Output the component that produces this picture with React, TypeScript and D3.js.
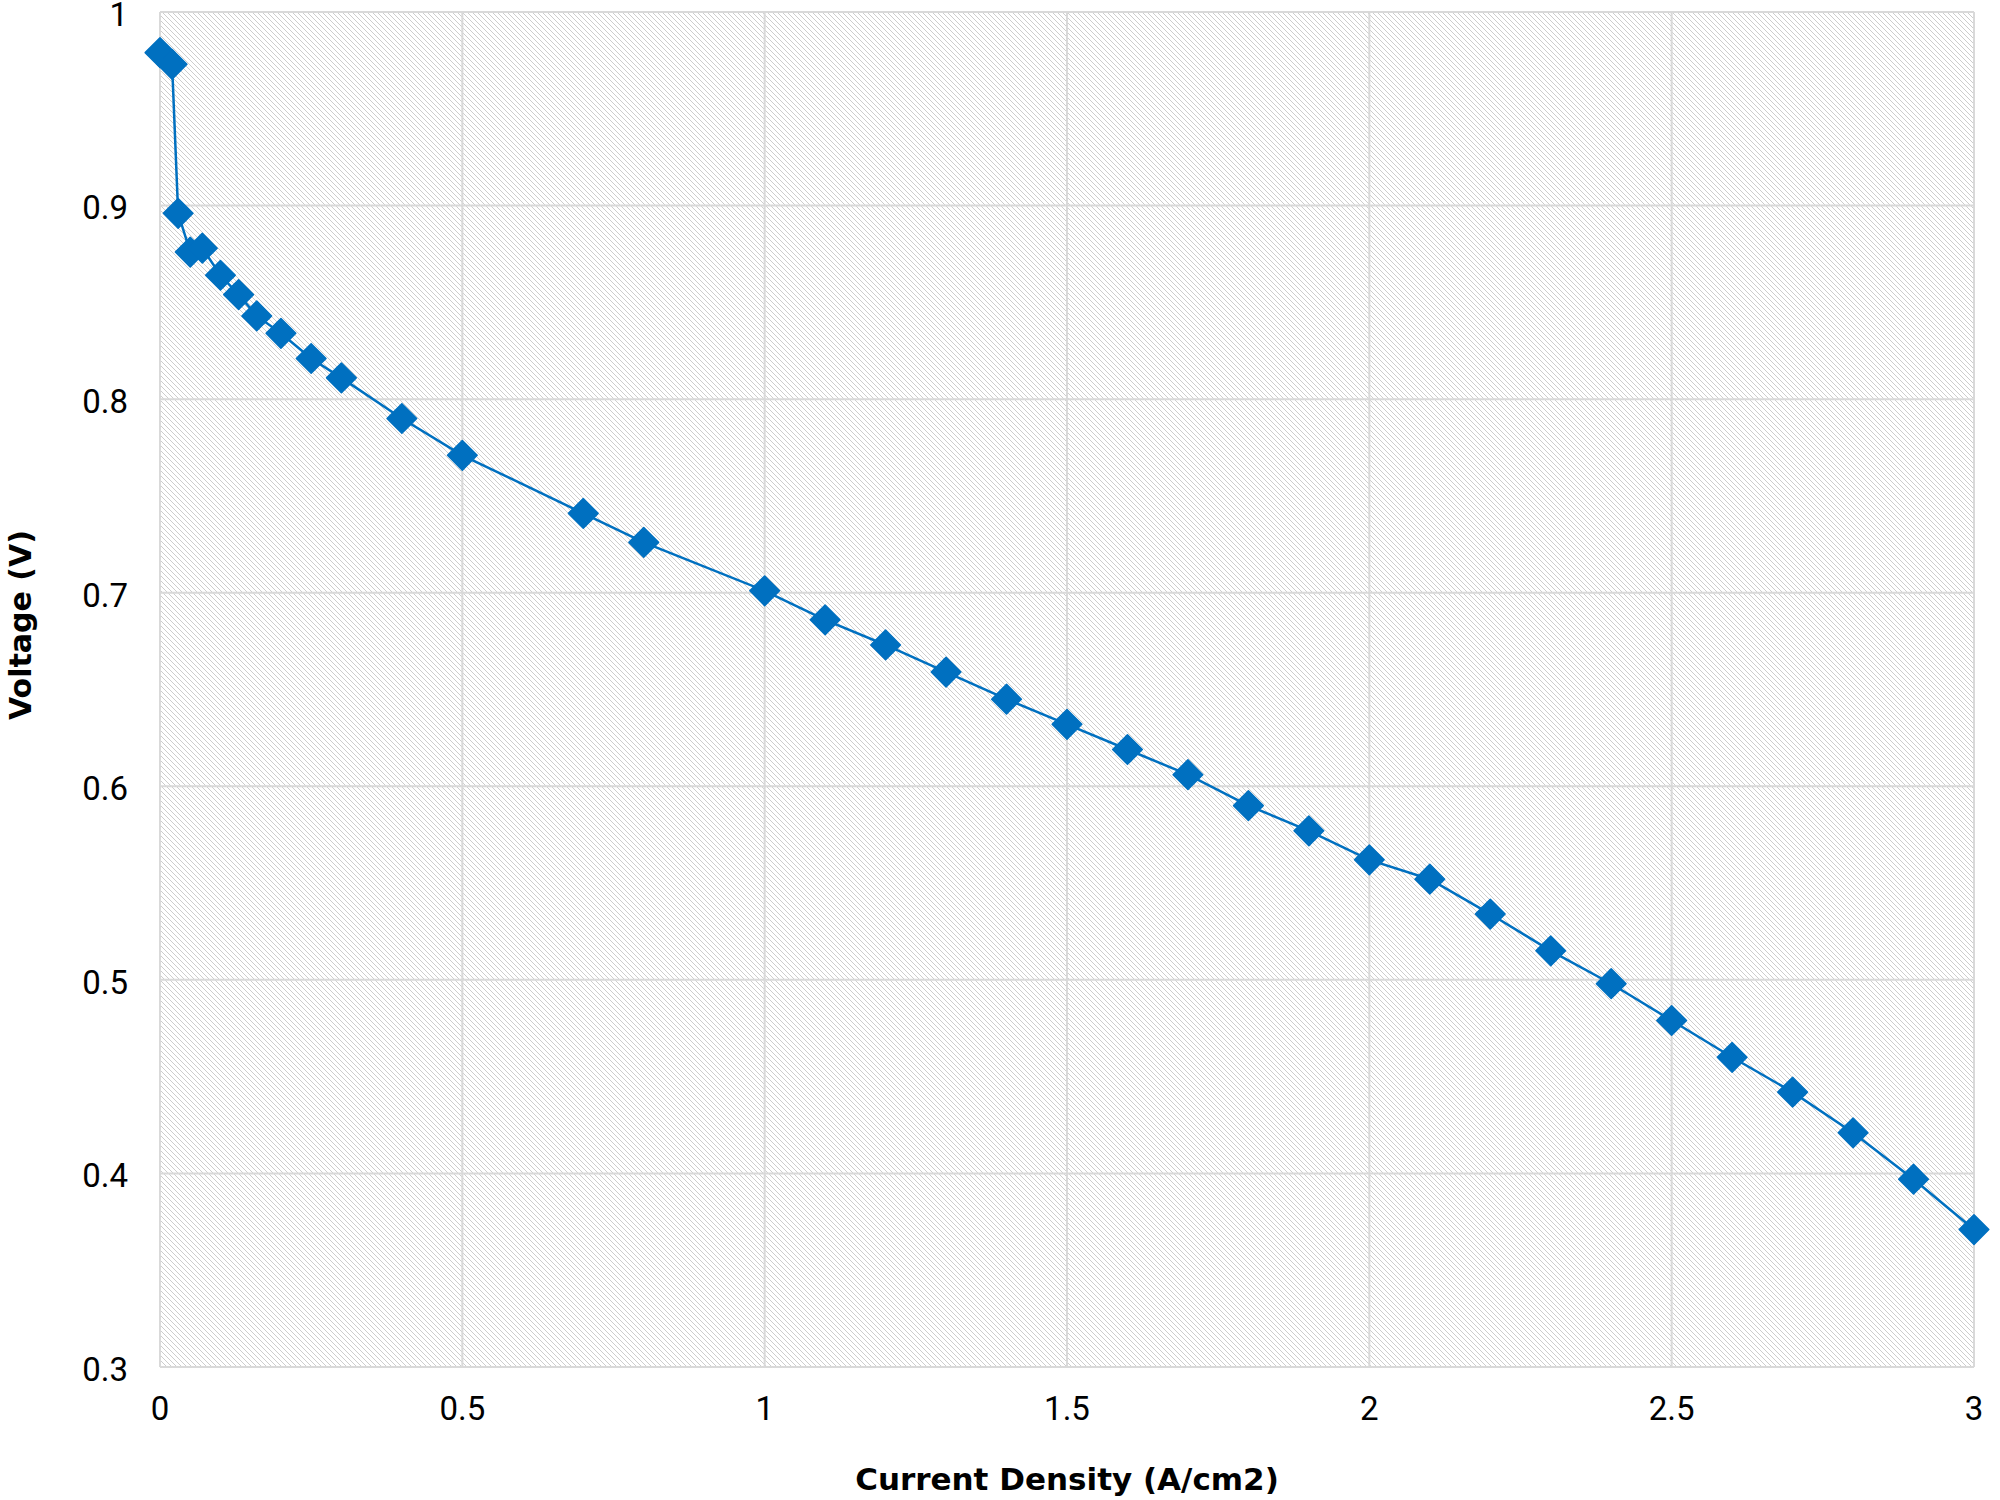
import { useEffect, useRef } from 'react'
import * as d3 from 'd3'

// Polarization curve readings
const currentDensity = [
    0, 0.02, 0.03, 0.05, 0.07, 0.1, 0.13, 0.16, 0.2, 0.25, 0.3, 0.4, 0.5, 0.7,
    0.8, 1.0, 1.1, 1.2, 1.3, 1.4, 1.5, 1.6, 1.7, 1.8, 1.9, 2.0, 2.1, 2.2, 2.3,
    2.4, 2.5, 2.6, 2.7, 2.8, 2.9, 3.0,
]
const voltage = [
    0.979, 0.973, 0.896, 0.876, 0.878, 0.864, 0.854, 0.843, 0.834, 0.821, 0.811,
    0.79, 0.771, 0.741, 0.726, 0.701, 0.686, 0.673, 0.659, 0.645, 0.632, 0.619,
    0.606, 0.59, 0.577, 0.562, 0.552, 0.534, 0.515, 0.498, 0.479, 0.46, 0.442,
    0.421, 0.397, 0.371,
]
const xTicks = [0, 0.5, 1, 1.5, 2, 2.5, 3]
const yTicks = [0.3, 0.4, 0.5, 0.6, 0.7, 0.8, 0.9, 1]
const xTitle = 'Current Density (A/cm2)'
const yTitle = 'Voltage (V)'

const App = () => {
    const ref = useRef<SVGSVGElement>(null)

    useEffect(() => {
        document.body.style.margin = '0'
        const width = 2000
        const height = 1500
        const margin = { top: 12, right: 26, bottom: 133, left: 160 }
        const gridColor = '#d9d9d9'
        const blue = '#0070c0'

        const svg = d3.select(ref.current)
        svg.selectAll('*').remove()
        svg.attr('width', width).attr('height', height)

        const x = d3
            .scaleLinear()
            .domain([0, 3])
            .range([margin.left, width - margin.right])
        const y = d3
            .scaleLinear()
            .domain([0.3, 1])
            .range([height - margin.bottom, margin.top])

        // diagonal hatch fill of the plot area
        const defs = svg.append('defs')
        const pat = defs
            .append('pattern')
            .attr('id', 'hatch')
            .attr('patternUnits', 'userSpaceOnUse')
            .attr('width', 5)
            .attr('height', 5)
        pat.append('rect').attr('width', 5).attr('height', 5).attr('fill', '#fff')
        pat.append('path')
            .attr('d', 'M0,0 L5,5 M-1,4 L1,6 M4,-1 L6,1')
            .attr('stroke', '#cdcdcd')
            .attr('stroke-width', 1)

        svg.append('rect')
            .attr('x', x(0))
            .attr('y', y(1))
            .attr('width', x(3) - x(0))
            .attr('height', y(0.3) - y(1))
            .attr('fill', 'url(#hatch)')

        // gridlines
        const grid = svg.append('g').attr('stroke', gridColor).attr('stroke-width', 2)
        grid.selectAll('.gx')
            .data(xTicks)
            .join('line')
            .attr('x1', (d) => x(d))
            .attr('x2', (d) => x(d))
            .attr('y1', y(0.3))
            .attr('y2', y(1))
        grid.selectAll('.gy')
            .data(yTicks)
            .join('line')
            .attr('x1', x(0))
            .attr('x2', x(3))
            .attr('y1', (d) => y(d))
            .attr('y2', (d) => y(d))

        // tick labels
        const font = 'Roboto, "DejaVu Sans", sans-serif'
        svg.append('g')
            .selectAll('text')
            .data(yTicks)
            .join('text')
            .attr('x', x(0) - 32)
            .attr('y', (d) => y(d))
            .attr('dy', '0.42em')
            .attr('text-anchor', 'end')
            .attr('font-family', font)
            .attr('font-size', 33)
            .attr('fill', '#000')
            .text((d) => d3.format('~g')(d))
        svg.append('g')
            .selectAll('text')
            .data(xTicks)
            .join('text')
            .attr('x', (d) => x(d))
            .attr('y', 1420)
            .attr('text-anchor', 'middle')
            .attr('font-family', font)
            .attr('font-size', 33)
            .attr('fill', '#000')
            .text((d) => d3.format('~g')(d))

        // axis titles
        svg.append('text')
            .attr('x', (x(0) + x(3)) / 2)
            .attr('y', 1490)
            .attr('text-anchor', 'middle')
            .attr('font-family', '"DejaVu Sans", sans-serif')
            .attr('font-weight', 'bold')
            .attr('font-size', 31)
            .attr('fill', '#000')
            .text(xTitle)
        svg.append('text')
            .attr('transform', 'translate(31,625) rotate(-90)')
            .attr('text-anchor', 'middle')
            .attr('font-family', '"DejaVu Sans", sans-serif')
            .attr('font-weight', 'bold')
            .attr('font-size', 30)
            .attr('fill', '#000')
            .text(yTitle)

        // series
        const pts = currentDensity.map((c, i) => [c, voltage[i]] as [number, number])
        svg.append('path')
            .datum(pts)
            .attr('fill', 'none')
            .attr('stroke', blue)
            .attr('stroke-width', 2.5)
            .attr(
                'd',
                d3
                    .line<[number, number]>()
                    .x((d) => x(d[0]))
                    .y((d) => y(d[1])),
            )
        svg.append('g')
            .selectAll('path')
            .data(pts)
            .join('path')
            .attr('d', d3.symbol(d3.symbolSquare, 440)())
            .attr('transform', (d) => `translate(${x(d[0])},${y(d[1])}) rotate(45)`)
            .attr('fill', blue)
            .attr('stroke', blue)
            .attr('stroke-width', 1.5)
            .attr('stroke-linejoin', 'round')
    }, [])

    return <svg ref={ref} style={{ display: 'block' }} />
}

export default App
